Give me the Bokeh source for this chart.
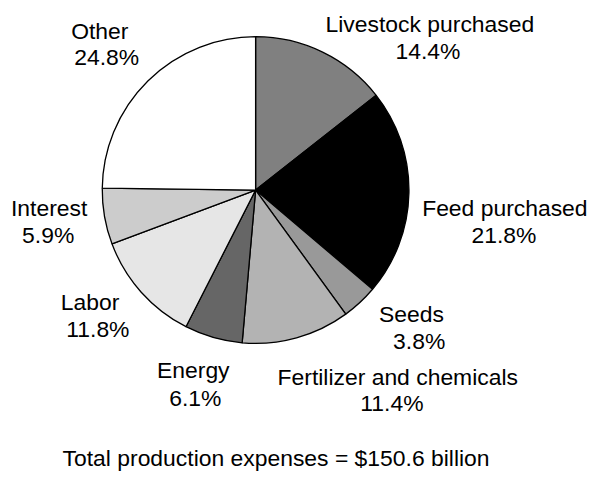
import math
from bokeh.plotting import figure
from bokeh.models import Range1d, ColumnDataSource
from bokeh.core.properties import value
from bokeh.embed import file_html
from bokeh.resources import INLINE

# ---- data ----
categories = ["Livestock purchased", "Feed purchased", "Seeds", "Fertilizer and chemicals",
              "Energy", "Labor", "Interest", "Other"]
shares = [14.4, 21.8, 3.8, 11.4, 6.1, 11.8, 5.9, 24.8]
colors = ["#808080", "#000000", "#999999", "#b3b3b3", "#666666", "#e6e6e6", "#cccccc", "#ffffff"]
total_label = "Total production expenses = $150.6 billion"

# ---- layout (reference-frame coordinates, 608 x 487, y down) ----
W, H = 592, 471
REF_W, REF_H = 608, 487
cx, cy, R = 262, 196, 157.5
name_pos = [(441, 32), (518, 222), (422, 332), (408, 397), (198, 390), (92, 319), (50, 222), (102, 39)]
pct_pos = [(439, 60), (517, 250), (430, 360), (402, 424), (200, 418), (100, 347), (49, 250), (109, 66)]
total_pos = (283, 481)
TEXT_DY = 7.5   # compensate renderer baseline offset
FONT = value("Liberation Sans")
FSIZE = "22.9px"


def py(y):
    return REF_H - y


def ty(y):
    return REF_H - (y - TEXT_DY)


p = figure(width=W, height=H, output_backend="svg", toolbar_location=None,
           x_range=Range1d(0, REF_W), y_range=Range1d(0, REF_H), min_border=0)
p.axis.visible = False
p.grid.visible = False
p.outline_line_color = None
p.background_fill_color = "white"
p.border_fill_color = "white"

tot = sum(shares)
starts, ends = [], []
cum = 0.0
for s in shares:
    a0 = math.pi / 2 - 2 * math.pi * (cum + s) / tot
    a1 = math.pi / 2 - 2 * math.pi * cum / tot
    starts.append(a0)
    ends.append(a1)
    cum += s

src = ColumnDataSource(dict(start=starts, end=ends, color=colors))
p.wedge(x=cx, y=py(cy), radius=R, start_angle="start", end_angle="end",
        fill_color="color", line_color="black", line_width=1.3, source=src)

lab = ColumnDataSource(dict(
    x=[q[0] for q in name_pos], y=[ty(q[1]) for q in name_pos], t=categories))
pct = ColumnDataSource(dict(
    x=[q[0] for q in pct_pos], y=[ty(q[1]) for q in pct_pos], t=[f"{s:.1f}%" for s in shares]))
for s in (lab, pct):
    p.text(x="x", y="y", text="t", source=s, text_align="center", text_baseline="alphabetic",
           text_font=FONT, text_font_size=FSIZE, text_color="black")

p.text(x=[total_pos[0]], y=[ty(total_pos[1])], text=[total_label], text_align="center",
       text_baseline="alphabetic", text_font=FONT, text_font_size=FSIZE, text_color="black")

open("out.html", "w").write(file_html(p, INLINE))
